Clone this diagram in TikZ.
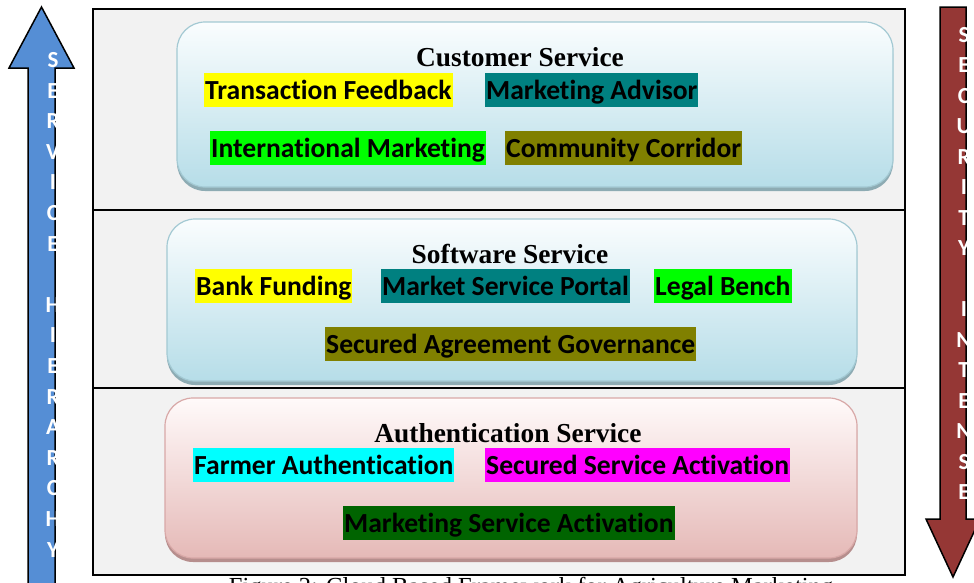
\documentclass[tikz,border=0pt]{standalone}
\usepackage{fontspec}
\setmainfont{Liberation Serif}
\newfontfamily\calfont[Ligatures=NoCommon]{Carlito}
\definecolor{framegray}{HTML}{F2F2F2}
\definecolor{arrowblue}{HTML}{558ED5}
\definecolor{arrowred}{HTML}{953735}
\definecolor{hlyellow}{HTML}{FFFF00}
\definecolor{hlteal}{HTML}{008080}
\definecolor{hlgreen}{HTML}{00FF00}
\definecolor{hlolive}{HTML}{808000}
\definecolor{hlcyan}{HTML}{00FFFF}
\definecolor{hlmagenta}{HTML}{FF00FF}
\definecolor{hldkgreen}{HTML}{006400}
\definecolor{bluetop}{HTML}{FAFDFE}
\definecolor{bluebot}{HTML}{B6DDE8}
\definecolor{bluebdr}{HTML}{A3C9D3}
\definecolor{blueshd}{HTML}{8DABB3}
\definecolor{pinktop}{HTML}{FFFAFA}
\definecolor{pinkbot}{HTML}{E5B9B7}
\definecolor{pinkbdr}{HTML}{D8A8A7}
\definecolor{pinkshd}{HTML}{B68E8D}
\begin{document}
\begin{tikzpicture}[x=1pt,y=-1pt,
  hl/.style={anchor=west, inner xsep=1pt, inner ysep=0pt, text height=26.3pt, text depth=7.4pt,
    font=\calfont\bfseries\fontsize{27.6}{30}\selectfont},
  titletext/.style={anchor=base, inner sep=0pt, font=\bfseries\fontsize{27.4}{30}\selectfont},
  vletter/.style={anchor=base, inner sep=0pt, text=white, font=\calfont\bfseries\fontsize{23}{23}\selectfont},
  bluebox/.style={rectangle, rounded corners=28pt, draw=bluebdr, line width=1.2pt, top color=bluetop, bottom color=bluebot, inner sep=0pt},
  pinkbox/.style={rectangle, rounded corners=28pt, draw=pinkbdr, line width=1.2pt, top color=pinktop, bottom color=pinkbot, inner sep=0pt},
  shadowbox/.style={rectangle, rounded corners=28pt, inner sep=0pt},
  arrowshape/.style={draw=black, line width=1.5pt, line join=miter}]
\useasboundingbox (0,0) rectangle (974,582);
% frame
\fill[framegray] (93,9) rectangle (905,575);
\draw[black, line width=1.5pt] (93,9) rectangle (905,575);
\draw[black, line width=2pt] (93,210) -- (905,210);
\draw[black, line width=2pt] (93,388) -- (905,388);
% boxes
\node[shadowbox, fill=blueshd, minimum width=716pt, minimum height=165pt] (custshd) at (535,108.5) {};
\node[bluebox, minimum width=716pt, minimum height=165pt] (cust) at (535,104.5) {};
\node[shadowbox, fill=blueshd, minimum width=690pt, minimum height=162pt] (softshd) at (512,304) {};
\node[bluebox, minimum width=690pt, minimum height=162pt] (soft) at (512,300) {};
\node[shadowbox, fill=pinkshd, minimum width=692pt, minimum height=160pt] (authshd) at (511,482) {};
\node[pinkbox, minimum width=692pt, minimum height=160pt] (auth) at (511,478) {};
% titles
\node[titletext] (custt) at (520,66) {Customer Service};
\node[titletext] (softt) at (510,263) {Software Service};
\node[titletext] (autht) at (508,442) {Authentication Service};
% customer items
\node[hl, fill=hlyellow] (tf) at (204,90) {Transaction Feedback};
\node[hl, fill=hlteal] (ma) at (485,90) {Marketing Advisor};
\node[hl, fill=hlgreen] (im) at (210,148) {International Marketing};
\node[hl, fill=hlolive] (cc) at (505,148) {Community Corridor};
% software items
\node[hl, fill=hlyellow] (bf) at (195,286) {Bank Funding};
\node[hl, fill=hlteal] (msp) at (381,286) {Market Service Portal};
\node[hl, fill=hlgreen] (lb) at (654,286) {Legal Bench};
\node[hl, fill=hlolive] (sag) at (325,344) {Secured Agreement Governance};
% authentication items
\node[hl, fill=hlcyan] (fa) at (193,465) {Farmer Authentication};
\node[hl, fill=hlmagenta] (ssa) at (485,465) {Secured Service Activation};
\node[hl, fill=hldkgreen] (msa) at (343,523) {Marketing Service Activation};
% left arrow
\filldraw[arrowshape, fill=arrowblue] (28,600) -- (28,68) -- (9,68) -- (41.5,7) -- (74,68) -- (55,68) -- (55,600) -- cycle;
\foreach \l [count=\i from 0] in {S,E,R,V,I,C,E,{},H,I,E,R,A,R,C,H,Y}
  \node[vletter, name=lv\i] at (53,{60+30.6*\i+7.4}) {\l};
% right arrow
\filldraw[arrowshape, fill=arrowred] (940,7) -- (940,519) -- (926,519) -- (953,577) -- (980,519) -- (966,519) -- (966,7) -- cycle;
\foreach \l [count=\i from 0] in {S,E,C,U,R,I,T,Y,{},I,N,T,E,N,S,E}
  \node[vletter, name=rv\i] at (964,{35+30.5*\i+7.4}) {\l};
% caption (cut off at the bottom edge, as in the reference)
\node[anchor=base, inner sep=0pt, font=\fontsize{24.5}{26}\selectfont] (cap) at (531,594) {Figure 2: Cloud Based Framework for Agriculture Marketing};
\end{tikzpicture}
\end{document}
